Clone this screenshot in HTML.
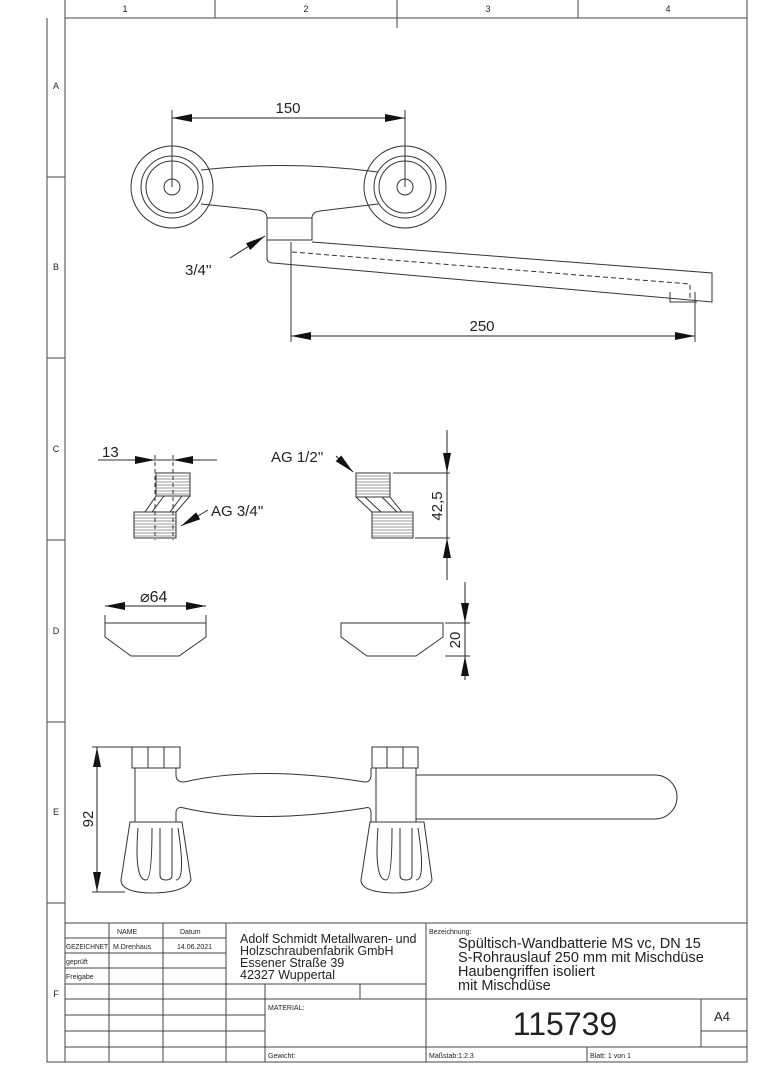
<!DOCTYPE html>
<html><head><meta charset="utf-8"><style>
html,body{margin:0;padding:0;background:#fff}
svg{display:block}
text{font-family:"Liberation Sans","DejaVu Sans",sans-serif;fill:#222}
</style></head><body>
<svg width="764" height="1080" viewBox="0 0 764 1080" xmlns="http://www.w3.org/2000/svg">
<defs>
<marker id="a" viewBox="0 0 10 4" refX="10" refY="2" markerWidth="20" markerHeight="8" markerUnits="userSpaceOnUse" orient="auto"><path d="M0,0L10,2L0,4z" fill="#111"/></marker>
<marker id="as" viewBox="0 0 10 4" refX="0" refY="2" markerWidth="20" markerHeight="8" markerUnits="userSpaceOnUse" orient="auto"><path d="M10,0L0,2L10,4z" fill="#111"/></marker>
</defs>
<g fill="none" stroke="#444" stroke-width="1">
<path d="M65,0V1062M47,18V1062H747V0M65,18H747"/>
<path d="M215,0V18M397,0V28M578,0V18"/>
<path d="M47,177H65M47,358H65M47,540H65M47,722H65M47,903H65"/>
</g>
<g font-size="9" text-anchor="middle">
<text x="125" y="12">1</text><text x="306" y="12">2</text><text x="488" y="12">3</text><text x="668" y="12">4</text>
<text x="56" y="89">A</text><text x="56" y="270">B</text><text x="56" y="452">C</text><text x="56" y="634">D</text><text x="56" y="815">E</text><text x="56" y="997">F</text>
</g>

<!-- TOP VIEW -->
<g fill="none" stroke="#333" stroke-width="1">
<circle cx="172" cy="187" r="41"/><circle cx="172" cy="187" r="31"/><circle cx="172" cy="187" r="26"/><circle cx="172" cy="187" r="8"/>
<circle cx="405" cy="187" r="41"/><circle cx="405" cy="187" r="31"/><circle cx="405" cy="187" r="26"/><circle cx="405" cy="187" r="8"/>
<path d="M201,170Q290,160 378,172"/>
<path d="M201,204L258,210Q267,211 267,218"/>
<path d="M378,204L320,211Q312,212 312,218"/>
<rect x="267" y="218" width="45" height="22"/>
<path d="M267,240V258Q267,263 273,263L712,302V273L312,242"/>
<path d="M670,292V302H697"/>
<path d="M292,252L690,284V300" stroke-dasharray="5,3"/>
<path d="M172,110V187M405,110V187M291,242V342M695,292V342"/>
</g>
<line x1="172" y1="118" x2="405" y2="118" stroke="#222" marker-start="url(#as)" marker-end="url(#a)"/>
<line x1="291" y1="336" x2="695" y2="336" stroke="#222" marker-start="url(#as)" marker-end="url(#a)"/>
<line x1="230" y1="258" x2="265" y2="236" stroke="#222" marker-end="url(#a)"/>
<text x="288" y="113" font-size="15" text-anchor="middle">150</text>
<text x="482" y="331" font-size="15" text-anchor="middle">250</text>
<text x="185" y="275" font-size="15">3/4''</text>

<!-- FITTINGS -->
<g fill="none" stroke="#333" stroke-width="1">
<rect x="156" y="473" width="34" height="23"/>
<path d="M156,476H190M156,479H190M156,482H190M156,485H190M156,488H190M156,491H190M156,494H190" stroke-width=".6"/>
<path d="M156,496L145,512M164,496L152,512M182,496L170,512M190,496L176,512"/>
<rect x="134" y="512" width="42" height="26"/>
<path d="M134,515H176M134,518H176M134,521H176M134,524H176M134,527H176M134,530H176M134,533H176M134,536H176" stroke-width=".6"/>
<path d="M155,455V540M173,455V540" stroke-dasharray="4,3"/>
<path d="M98,460H217"/>
<rect x="356" y="473" width="34" height="24"/>
<path d="M356,476H390M356,479H390M356,482H390M356,485H390M356,488H390M356,491H390M356,494H390" stroke-width=".6"/>
<path d="M356,497L372,512M365,497L381,512M382,497L397,512M390,497L402,512H413"/>
<rect x="372" y="512" width="41" height="26"/>
<path d="M372,515H413M372,518H413M372,521H413M372,524H413M372,527H413M372,530H413M372,533H413M372,536H413" stroke-width=".6"/>
<path d="M393,473H450M415,538H450"/>
<path d="M105,615V623M206,615V623M105,623H206V637L179,656H131L105,637Z"/>
<path d="M341,623H443V637L416,656H367L341,637Z"/>
<path d="M445,623H470M445,656H470"/>
</g>
<line x1="128" y1="460" x2="155" y2="460" stroke="#222" marker-end="url(#a)"/>
<line x1="200" y1="460" x2="173" y2="460" stroke="#222" marker-end="url(#a)"/>
<line x1="447" y1="430" x2="447" y2="473" stroke="#222" marker-end="url(#a)"/>
<line x1="447" y1="580" x2="447" y2="538" stroke="#222" marker-end="url(#a)"/>
<line x1="447" y1="473" x2="447" y2="538" stroke="#222"/>
<line x1="105" y1="606" x2="206" y2="606" stroke="#222" marker-start="url(#as)" marker-end="url(#a)"/>
<line x1="465" y1="582" x2="465" y2="623" stroke="#222" marker-end="url(#a)"/>
<line x1="465" y1="680" x2="465" y2="656" stroke="#222" marker-end="url(#a)"/>
<line x1="465" y1="623" x2="465" y2="656" stroke="#222"/>
<line x1="208" y1="510" x2="181" y2="526" stroke="#222" marker-end="url(#a)"/>
<line x1="336" y1="456" x2="353" y2="472" stroke="#222" marker-end="url(#a)"/>
<text x="102" y="457" font-size="15">13</text>
<text x="211" y="516" font-size="15">AG 3/4''</text>
<text x="271" y="462" font-size="15">AG 1/2''</text>
<text x="140" y="602" font-size="16">⌀64</text>
<text transform="translate(442,506) rotate(-90)" font-size="15" text-anchor="middle">42,5</text>
<text transform="translate(460,640) rotate(-90)" font-size="15" text-anchor="middle">20</text>

<!-- SIDE VIEW -->
<g fill="none" stroke="#333" stroke-width="1">
<rect x="132" y="747" width="48" height="21"/><path d="M148,747V768M164,747V768"/>
<rect x="372" y="747" width="46" height="21"/><path d="M387,747V768M403,747V768"/>
<path d="M135,768V822M176,768V775Q176,782 184,782Q258,765 365,782Q371,782 371,775V768"/>
<path d="M176,822V813Q176,806 184,808Q258,825 365,808Q371,806 371,813V822"/>
<path d="M376,768V822M416,768V822"/>
<path d="M416,775H655A22,22 0 0 1 655,819H416"/>
<path d="M130,822L121,880Q121,892 150,893Q185,893 191,880L182,822Z"/>
<path d="M138,828Q134,880 146,880Q152,880 152,828M160,828V875Q160,880 166,880Q172,880 172,875V828M178,828Q186,880 176,880"/>
<path d="M370,822L361,880Q361,892 392,893Q427,893 432,880L424,822Z"/>
<path d="M378,828Q374,880 386,880Q392,880 392,828M400,828V875Q400,880 406,880Q412,880 412,875V828M418,828Q426,880 416,880"/>
<path d="M92,747H132M92,892H125"/>
</g>
<line x1="97" y1="770" x2="97" y2="747" stroke="#222" marker-end="url(#a)"/>
<line x1="97" y1="870" x2="97" y2="892" stroke="#222" marker-end="url(#a)"/>
<line x1="97" y1="747" x2="97" y2="892" stroke="#222"/>
<text transform="translate(93,819) rotate(-90)" font-size="15" text-anchor="middle">92</text>

<!-- TITLE BLOCK -->
<g fill="none" stroke="#444" stroke-width="1">
<path d="M65,923H747"/>
<path d="M109,923V1062M163,923V1062M226,923V1062M426,923V1062M265,984V1062M360,984V999M587,1047V1062M701,999V1047"/>
<path d="M65,938H226M65,953H226M65,968H226M65,984H426M65,999H747M65,1015H265M65,1031H265M701,1031H747M65,1047H747"/>
</g>
<g font-size="7">
<text x="117" y="934">NAME</text><text x="180" y="934">Datum</text>
<text x="66" y="949" textLength="42" lengthAdjust="spacingAndGlyphs">GEZEICHNET</text><text x="113" y="949">M.Drenhaus</text><text x="177" y="949">14.06.2021</text>
<text x="66" y="964">geprüft</text><text x="66" y="979">Freigabe</text>
<text x="429" y="934">Bezeichnung:</text>
<text x="268" y="1010">MATERIAL:</text>
<text x="268" y="1058">Gewicht:</text>
<text x="429" y="1058">Maßstab:1:2.3</text>
<text x="590" y="1058">Blatt: 1 von 1</text>
</g>
<g font-size="12.5">
<text x="240" y="943">Adolf Schmidt Metallwaren- und</text>
<text x="240" y="955">Holzschraubenfabrik GmbH</text>
<text x="240" y="967">Essener Straße 39</text>
<text x="240" y="979">42327 Wuppertal</text>
</g>
<g font-size="14.5">
<text x="458" y="948">Spültisch-Wandbatterie MS vc, DN 15</text>
<text x="458" y="962">S-Rohrauslauf 250 mm mit Mischdüse</text>
<text x="458" y="976">Haubengriffen isoliert</text>
<text x="458" y="990">mit Mischdüse</text>
</g>
<text x="565" y="1035" font-size="32" text-anchor="middle">115739</text>
<text x="722" y="1021" font-size="13" text-anchor="middle">A4</text>
</svg>
</body></html>
